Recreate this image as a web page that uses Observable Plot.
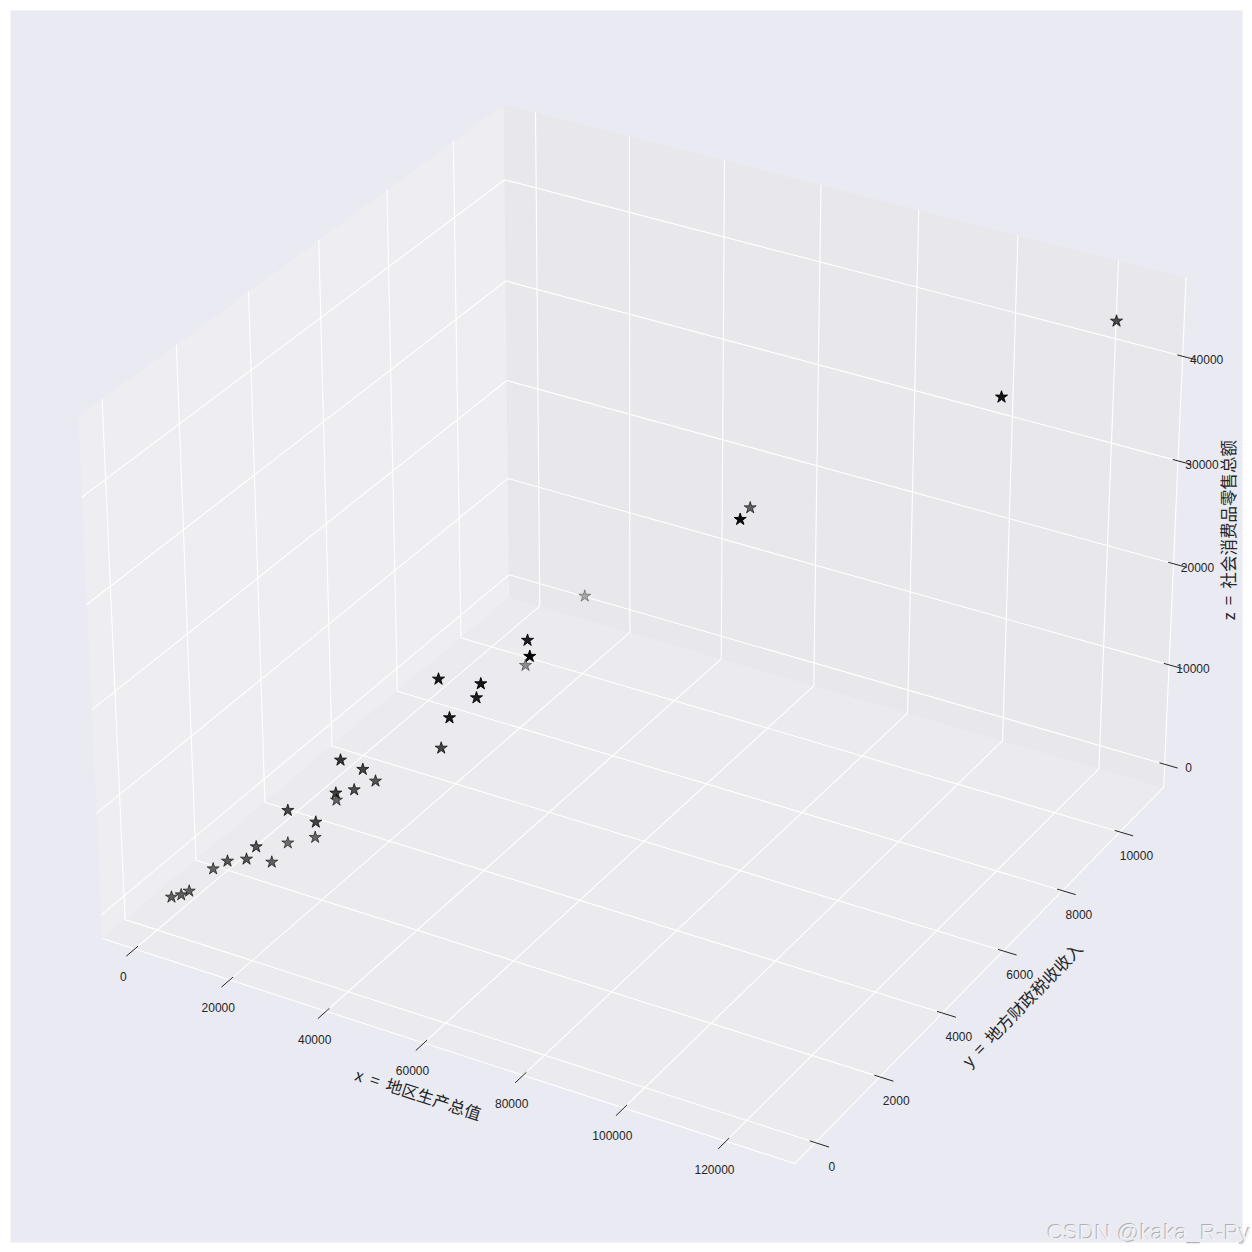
<!DOCTYPE html><html><head><meta charset="utf-8"><style>html,body{margin:0;background:#fff}svg{display:block}</style>
<script src="https://cdn.jsdelivr.net/npm/d3@7"></script><script src="https://cdn.jsdelivr.net/npm/@observablehq/plot@0.6"></script></head><body><script>
const gdp=[124369,116364,83096,73516,58887,53850,50012,48810,46063,42959,43214,40391,40269,29801,29619,27894,27584,27146,24740,22590,20514,19586,15983,15695,14879,13235,10243,6475,4522,3346,2080];
const tax=[10775,8318,5422,7234,2725,3390,2562,2602,2202,2339,6671,2741,5278,2295,1967,1578,1984,1523,1262,2148,1795,1175,1159,1660,885,820,683,767,339,267,161];
const retail=[44147,42166,33872,28935,24930,23930,21530,19908,18726,21615,17804,13464,14404,9999,12058,13827,9721,10669,8241,7513,4560,8888,3319,3700,5472,4209,3974,2404,1177,849,746];
const yRange=[150,10780],zRange=[810,44187];
const xTicks=[0,20000,40000,60000,80000,100000,120000];
const yTicks=[0,2000,4000,6000,8000,10000];
const zTicks=[0,10000,20000,30000,40000];
const xLabel="x\u00A0\u00A0=\u00A0\u00A0地区生产总值",yLabel="y\u00A0\u00A0=\u00A0\u00A0地方财政税收收入",zLabel="z\u00A0\u00A0=\u00A0\u00A0社会消费品零售总额";
const pad=v=>{const a=d3.min(v),b=d3.max(v),m=(b-a)*.05,l=a-m,h=b+m,e=(h-l)/48;return [l-e,h+e];};
const xl=pad(gdp),yl=pad(yRange),zl=pad(zRange);
const S=6940,OX=642,OY=609,BW=1.1429,BH=.8571;
function proj(x,y,z){const dx=((x-xl[0])/(xl[1]-xl[0])-.5)*BW,dy=((y-yl[0])/(yl[1]-yl[0])-.5)*BW,dz=((z-zl[0])/(zl[1]-zl[0])-.5)*BH;
const X=.86603*dx+.5*dy,Y=-.25*dx+.43301*dy+.86603*dz,Z=.43301*dx-.75*dy+.5*dz,w=10-Z;return {x:X/w,y:Y/w,depth:Z};}
const [x0,x1]=xl,[y0,y1]=yl,[z0,z1]=zl,ex=x1-x0,ey=y1-y0;
const path=(pts,k)=>pts.map(p=>({...proj(...p),k}));
const panes=[
 {c:"#f2f2f2",pts:[[x0,y0,z0],[x0,y1,z0],[x0,y1,z1],[x0,y0,z1]]},
 {c:"#e6e6e6",pts:[[x0,y1,z0],[x1,y1,z0],[x1,y1,z1],[x0,y1,z1]]},
 {c:"#ececec",pts:[[x0,y0,z0],[x1,y0,z0],[x1,y1,z0],[x0,y1,z0]]}];
const grid=[...xTicks.flatMap(t=>path([[t,y0,z0],[t,y1,z0],[t,y1,z1]],"x"+t)),
 ...yTicks.flatMap(t=>path([[x1,t,z0],[x0,t,z0],[x0,t,z1]],"y"+t)),
 ...zTicks.flatMap(t=>path([[x0,y0,t],[x0,y1,t],[x1,y1,t]],"z"+t))];
const edges=[...path([[x0,y0,z0],[x1,y0,z0]],"a"),...path([[x1,y0,z0],[x1,y1,z0]],"b"),...path([[x1,y1,z0],[x1,y1,z1]],"c")];
const IN=.007,OUT=.0185;
const ticks=[...xTicks.flatMap(t=>path([[t,y0+IN*ey,z0],[t,y0-OUT*ey,z0]],"x"+t)),
 ...yTicks.flatMap(t=>path([[x1-IN*ex,t,z0],[x1+OUT*ex,t,z0]],"y"+t)),
 ...zTicks.flatMap(t=>path([[x1-IN*ex,y1,t],[x1+OUT*ex,y1,t]],"z"+t))];
const lab=(ts,f)=>ts.map(t=>({...proj(...f(t)),t:String(t)}));
const stars=gdp.map((g,i)=>proj(g,tax[i],retail[i]));
const dd=d3.extent(stars,d=>d.depth);
stars.forEach(s=>s.a=1-.7*(dd[1]-s.depth)/(dd[1]-dd[0]));
stars.sort((a,b)=>a.depth-b.depth);
const T={fill:"#262626",fontFamily:"Liberation Sans, Arial, sans-serif",fontSize:12};
const L={fill:"#262626",fontFamily:"'Noto Sans CJK SC'",fontSize:16.5};
const wm={frameAnchor:"bottom-left",textAnchor:"start",fontFamily:"Liberation Sans, Arial, sans-serif",fontSize:22.5};
document.body.append(Plot.plot({width:1252,height:1252,margin:0,
x:{domain:[-OX/S,(1252-OX)/S],range:[0,1252],axis:null},y:{domain:[OY/S,(OY-1252)/S],range:[0,1252],axis:null},
marks:[Plot.frame({fill:"#EAEAF2",stroke:"none",inset:10}),
...panes.map(p=>Plot.line(path(p.pts,"p"),{x:"x",y:"y",fill:p.c,fillOpacity:.5,stroke:"none"})),
Plot.line(grid,{x:"x",y:"y",z:"k",stroke:"#fff",strokeWidth:1.1,strokeLinejoin:"miter"}),
Plot.line(edges,{x:"x",y:"y",z:"k",stroke:"#fff",strokeWidth:1.1}),
Plot.line(ticks,{x:"x",y:"y",z:"k",stroke:"#262626",strokeWidth:1}),
Plot.text(lab(xTicks,t=>[t,y0,z0]),{x:"x",y:"y",text:"t",dx:-11.5,dy:28.5,...T}),
Plot.text(lab(yTicks,t=>[x1,t,z0]),{x:"x",y:"y",text:"t",dx:16.5,dy:24.5,...T}),
Plot.text(lab(zTicks,t=>[x1,y1,t]),{x:"x",y:"y",text:"t",dx:24,dy:4,...T}),
Plot.text([proj((x0+x1)/2,y0,z0)],{x:"x",y:"y",text:[xLabel],rotate:18,dx:-22,dy:47,...L}),
Plot.text([proj(x1,(y0+y1)/2,z0)],{x:"x",y:"y",text:[yLabel],rotate:-46,dx:36,dy:38,...L}),
Plot.text([proj(x1,y1,(z0+z1)/2)],{x:"x",y:"y",text:[zLabel],rotate:-90,dx:55,dy:-8,...L}),
Plot.dot(stars,{x:"x",y:"y",symbol:"star",r:3.8,fill:"#000",fillOpacity:"a",stroke:"#000",strokeOpacity:"a",strokeWidth:1}),
Plot.text(["CSDN @kaka_R-Py"],{...wm,dx:1046,dy:-14,fill:"#b0b0b4"}),
Plot.text(["CSDN @kaka_R-Py"],{...wm,dx:1047,dy:-13,fill:"#f0f0f4"}),
]}));
</script></body></html>
